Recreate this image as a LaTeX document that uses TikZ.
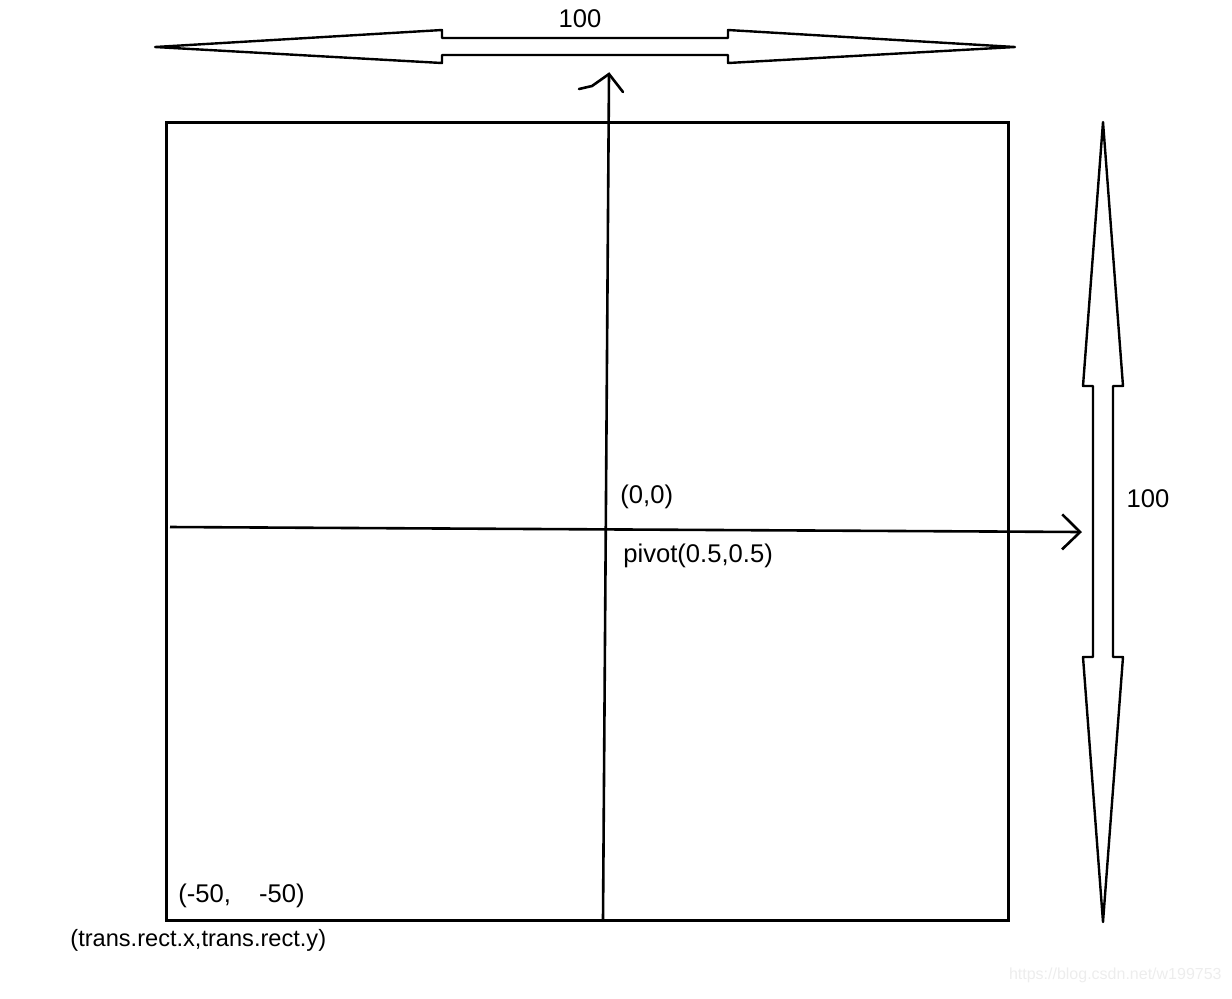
\documentclass[tikz,border=0pt]{standalone}
\usepackage{fontspec}
\setmainfont{Liberation Sans}
\usetikzlibrary{arrows.meta}

\tikzset{
  label/.style={font=\fontsize{12.8}{15}\selectfont, inner sep=0pt},
  axis/.style={line width=1.3pt},
  span/.style={line width=1.2pt, line join=round}
}

\begin{document}
\begin{tikzpicture}[x=0.5pt,y=-0.5pt]

\useasboundingbox (0,0) rectangle (1232,998);

% the rect
\draw[line width=1.5pt] (166,122) rectangle (1008,920);

% the axes
\coordinate (ybot) at (603,920);
\coordinate (ytop) at (609,74);
\coordinate (xleft) at (170,527);
\coordinate (xright) at (1082,532);

\draw[axis] (ybot) -- (ytop);
\draw[axis, line cap=round] (579,89) -- (592,86) -- (ytop) -- (623,92);
\draw[axis, -{Straight Barb[length=9pt,width=17.5pt]}] (xleft) -- (xright);

% width and height
\draw[span] (155,47) -- (442,30) -- (442,38) -- (728,38) -- (728,30) -- (1015,47)
  -- (728,63) -- (728,55) -- (442,55) -- (442,63) -- cycle;
\draw[span] (1103,122) -- (1123,386) -- (1113,386) -- (1113,657) -- (1123,657) -- (1103,922)
  -- (1083,657) -- (1093,657) -- (1093,386) -- (1083,386) -- cycle;

\node[label] (width) at (580,19) {100};
\node[label] (height) at (1148,499) {100};

% the labels
\node[label, anchor=west] (origin) at (620,497) {(0,0)};
\node[label, anchor=west] (pivot) at (623,556) {pivot(0.5,0.5)};
\node[label, anchor=west] (corner) at (178,896) {(-50,\hspace{1.1em}-50)};
\node[label, anchor=west, font=\fontsize{11.8}{14}\selectfont] (rectpos) at (70,940) {(trans.rect.x,trans.rect.y)};

\node[label, anchor=east, text=black!7, font=\fontsize{8}{10}\selectfont] (mark) at (1222,975) {https://blog.csdn.net/w199753};

\end{tikzpicture}
\end{document}
